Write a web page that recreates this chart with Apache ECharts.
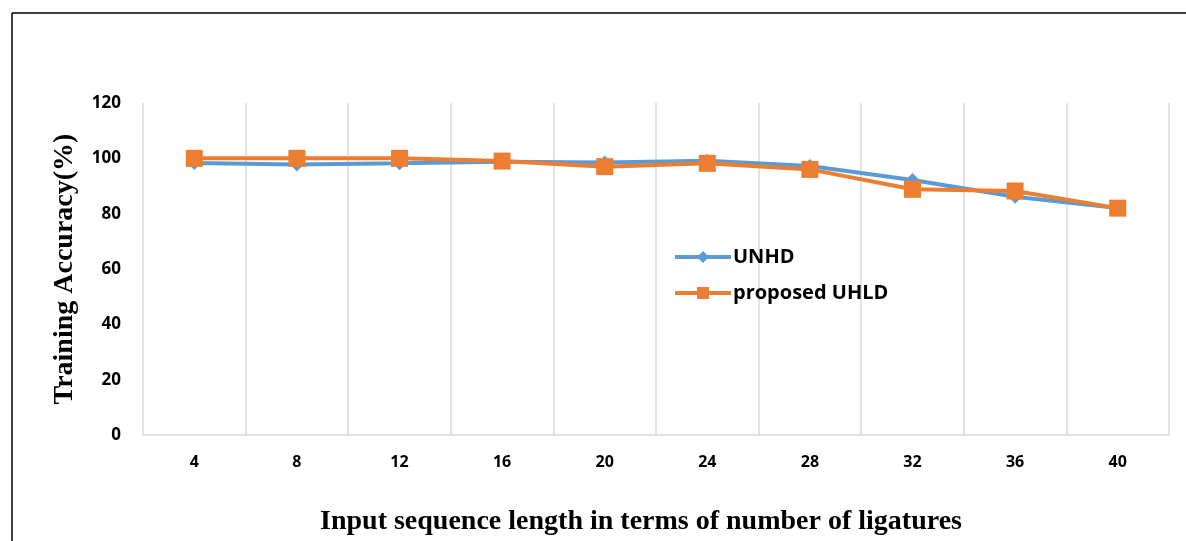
<!DOCTYPE html>
<html>
<head>
<meta charset="utf-8">
<script src="https://cdn.jsdelivr.net/npm/echarts@6/dist/echarts.min.js"></script>
<style>
html,body{margin:0;padding:0;background:#fff;}
#c{width:1186px;height:541px;}
</style>
</head>
<body>
<div id="c"></div>
<script>
var categories = ['4','8','12','16','20','24','28','32','36','40'];
var unhd = [98.3, 97.8, 98.2, 98.8, 98.5, 99.1, 97.2, 92.2, 86.1, 82];
var uhld = [100, 100, 100, 99, 97, 98.2, 96, 88.8, 88.2, 82];
var yTicks = {min: 0, max: 120, interval: 20};

var chart = echarts.init(document.getElementById('c'));
chart.setOption({
  animation: false,
  backgroundColor: '#fff',
  grid: {left: 143, right: 17, top: 103, bottom: 106, outerBoundsMode: 'none', containLabel: false},
  graphic: [
    {type: 'line', shape: {x1: 12, y1: 13, x2: 12, y2: 541}, style: {stroke: '#000', lineWidth: 1.5}},
    {type: 'line', shape: {x1: 12, y1: 13, x2: 1186, y2: 13}, style: {stroke: '#000', lineWidth: 1.5}}
  ],
  legend: {
    orient: 'vertical',
    left: 668,
    top: 242,
    itemWidth: 56,
    itemHeight: 15,
    itemGap: 16,
    lineStyle: {width: 4},
    textStyle: {fontFamily: 'Open Sans', fontWeight: 'bold', fontSize: 20, color: '#000', padding: [0, 0, 0, -3]},
    data: ['UNHD', 'proposed UHLD']
  },
  xAxis: {
    type: 'category',
    data: categories,
    boundaryGap: true,
    axisLine: {lineStyle: {color: '#d9d9d9', width: 1.5}},
    axisTick: {show: false},
    splitLine: {show: true, lineStyle: {color: '#d9d9d9', width: 1.5}},
    axisLabel: {margin: 19, fontFamily: 'Open Sans', fontWeight: 'bold', fontSize: 16, color: '#000'},
    name: 'Input sequence length in terms of number of ligatures',
    nameLocation: 'middle',
    nameGap: 73,
    nameTextStyle: {fontFamily: 'Liberation Serif', fontWeight: 'bold', fontSize: 28, color: '#000', padding: [0, 30, 0, 0]}
  },
  yAxis: {
    type: 'value',
    min: yTicks.min,
    max: yTicks.max,
    interval: yTicks.interval,
    axisLine: {show: false},
    axisTick: {show: false},
    splitLine: {show: false},
    axisLabel: {margin: 22, fontFamily: 'Open Sans', fontWeight: 'bold', fontSize: 17, color: '#000'},
    name: 'Training Accuracy(%)',
    nameLocation: 'middle',
    nameGap: 64,
    nameTextStyle: {fontFamily: 'Liberation Serif', fontWeight: 'bold', fontSize: 28, color: '#000'}
  },
  series: [
    {
      name: 'UNHD', type: 'line', data: unhd,
      symbol: 'diamond', symbolSize: 14,
      lineStyle: {color: '#5b9bd5', width: 4},
      itemStyle: {color: '#5b9bd5'}
    },
    {
      name: 'proposed UHLD', type: 'line', data: uhld,
      symbol: 'rect', symbolSize: 17,
      lineStyle: {color: '#ed7d31', width: 4},
      itemStyle: {color: '#ed7d31'}
    }
  ]
});
</script>
</body>
</html>
